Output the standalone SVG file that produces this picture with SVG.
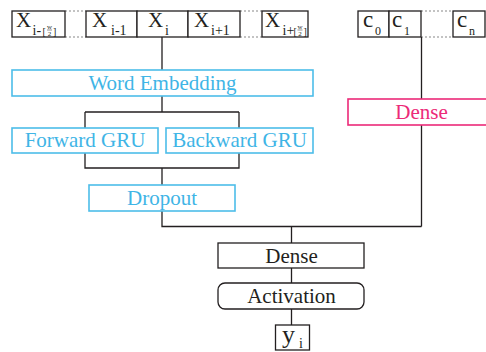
<svg xmlns="http://www.w3.org/2000/svg" width="486" height="352" viewBox="0 0 486 352">
<style>
.box{fill:#fff;stroke:#231f20;stroke-width:1.3}
.bbox{fill:#fff;stroke:#4dbde9;stroke-width:1.6}
.pbox{fill:#fff;stroke:#ec2a78;stroke-width:1.6}
.t{font-family:"Liberation Serif","Times New Roman",serif;fill:#231f20}
.bt{font-family:"Liberation Serif","Times New Roman",serif;fill:#3fb5e6;font-size:21px;text-anchor:middle}
.pt{font-family:"Liberation Serif","Times New Roman",serif;fill:#ec2a78;font-size:21px;text-anchor:middle}
.lbl{font-size:21px;text-anchor:middle}
.big{font-size:21px}
.sub{font-size:14px}
.tiny{font-size:7px;text-anchor:middle}
.brk{font-size:10px}
.dot{stroke:#888;stroke-width:1.2;stroke-dasharray:2 2;fill:none}
.ln{stroke:#231f20;stroke-width:1.3;fill:none}
</style>
<g id="connectors">
<path class="dot" d="M65 11H86M65 37H86M240 11H262M240 37H262M421 11H453M421 37H453"/>
<path class="ln" d="M162 37V70M162 96V112M85 112H239M85 112V128M239 112V128M85 153V168H239V153M162 168V185M162 211V226.5H421.5M421.5 37V99M421.5 125V226.5M291.5 226.5V243M291.5 268V283M291.5 309V325"/>
</g>
<g id="x-left">
<rect class="box" x="12" y="11" width="53" height="26"/>
<text class="t big" x="16" y="27">X</text>
<text class="t sub" x="32.5" y="35">i-</text>
<text class="t brk" x="42.5" y="35">[</text>
<text class="t tiny" x="49.5" y="29">w</text>
<line x1="47" y1="30" x2="52" y2="30" stroke="#231f20" stroke-width="0.5"/>
<text class="t tiny" x="49.5" y="36">2</text>
<text class="t brk" x="53" y="35">]</text>
</g>
<g id="x-im1">
<rect class="box" x="86" y="11" width="51" height="26"/>
<text class="t big" x="92" y="27">X</text>
<text class="t sub" x="111" y="35">i-1</text>
</g>
<g id="x-i">
<rect class="box" x="137" y="11" width="51" height="26"/>
<text class="t big" x="148" y="27">X</text>
<text class="t sub" x="165" y="35">i</text>
</g>
<g id="x-ip1">
<rect class="box" x="188" y="11" width="52" height="26"/>
<text class="t big" x="194" y="27">X</text>
<text class="t sub" x="211" y="35">i+1</text>
</g>
<g id="x-right">
<rect class="box" x="262" y="11" width="46" height="26"/>
<text class="t big" x="265" y="27">X</text>
<text class="t sub" x="282.5" y="35">i+</text>
<text class="t brk" x="293.5" y="35">[</text>
<text class="t tiny" x="300" y="29">w</text>
<line x1="297.5" y1="30" x2="302.5" y2="30" stroke="#231f20" stroke-width="0.5"/>
<text class="t tiny" x="300" y="36">2</text>
<text class="t brk" x="303.5" y="35">]</text>
</g>
<g id="c0">
<rect class="box" x="358" y="11" width="31" height="26"/>
<text class="t" x="363" y="26.5" font-size="23">c</text>
<text class="t" x="375" y="34.5" font-size="12">0</text>
</g>
<g id="c1">
<rect class="box" x="389" y="11" width="32" height="26"/>
<text class="t" x="392" y="26.5" font-size="23">c</text>
<text class="t" x="404" y="34.5" font-size="12">1</text>
</g>
<g id="cn">
<rect class="box" x="453" y="11" width="32" height="26"/>
<text class="t" x="457" y="26.5" font-size="23">c</text>
<text class="t" x="469" y="34.5" font-size="12">n</text>
</g>
<g id="word-embedding">
<rect class="bbox" x="12" y="70" width="301" height="26"/>
<text class="bt" x="162.5" y="89.5">Word Embedding</text>
</g>
<g id="forward-gru">
<rect class="bbox" x="12" y="128" width="146" height="25"/>
<text class="bt" x="85" y="147">Forward GRU</text>
</g>
<g id="backward-gru">
<rect class="bbox" x="166" y="128" width="147" height="25"/>
<text class="bt" x="239.5" y="147">Backward GRU</text>
</g>
<g id="dropout">
<rect class="bbox" x="89" y="185" width="146" height="26"/>
<text class="bt" x="162" y="205">Dropout</text>
</g>
<g id="dense-c">
<rect class="pbox" x="348" y="99" width="147" height="26"/>
<text class="pt" x="421.5" y="118.5">Dense</text>
</g>
<g id="dense">
<rect class="box" x="218" y="243" width="146" height="25"/>
<text class="t lbl" x="291.5" y="262.5">Dense</text>
</g>
<g id="activation">
<rect class="box" x="218" y="283" width="146" height="26" rx="7"/>
<text class="t lbl" x="291.5" y="303">Activation</text>
</g>
<g id="yi">
<rect class="box" x="275.5" y="325" width="34" height="25"/>
<text class="t" x="282" y="343" font-size="26">y</text>
<text class="t" x="299" y="348" font-size="14">i</text>
</g>
</svg>
